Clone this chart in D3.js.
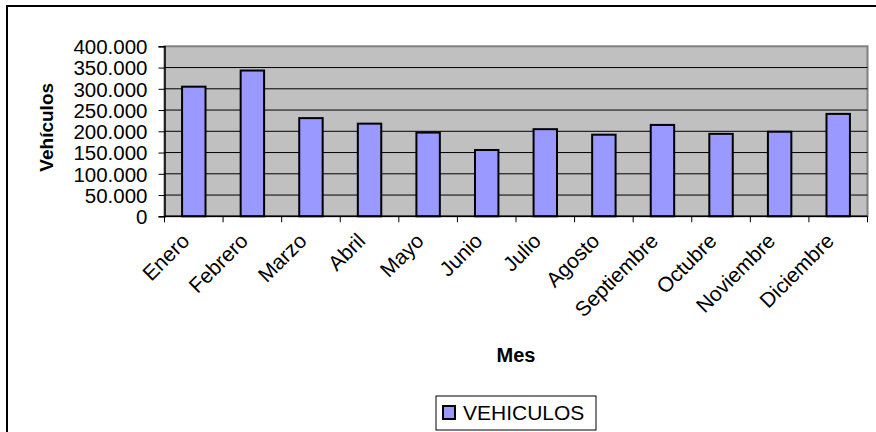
<!DOCTYPE html>
<html>
<head>
<meta charset="utf-8">
<script src="https://cdn.jsdelivr.net/npm/d3@7"></script>
<style>
  body { margin: 0; background: #fff; }
  text { font-family: "Liberation Sans", Arial, sans-serif; fill: #000; }
</style>
</head>
<body>
<svg id="chart" width="876" height="432"></svg>
<script>
// data
var meses = ["Enero","Febrero","Marzo","Abril","Mayo","Junio","Julio","Agosto","Septiembre","Octubre","Noviembre","Diciembre"];
var vehiculos = [305000, 343000, 231000, 218000, 197000, 156000, 205000, 192000, 215000, 194000, 199000, 241000];
var yTicks = [0, 50000, 100000, 150000, 200000, 250000, 300000, 350000, 400000];

var svg = d3.select("#chart");
var fmt = d3.formatLocale({decimal: ",", thousands: ".", grouping: [3], currency: ["", ""]}).format(",d");

var L = 164.5, R = 867.5, T = 46.3, B = 216.3;

// outer chart frame
svg.append("rect").attr("x", 7).attr("y", 6).attr("width", 880).attr("height", 440)
  .attr("fill", "#fff").attr("stroke", "#000").attr("stroke-width", 2);

var x = d3.scaleBand().domain(meses).range([L, R]).padding(0);
var y = d3.scaleLinear().domain([0, 400000]).range([B, T]);

// plot area
svg.append("rect").attr("x", L).attr("y", T).attr("width", R - L).attr("height", B - T)
  .attr("fill", "#c0c0c0").attr("stroke", "#808080").attr("stroke-width", 2);

// gridlines
svg.selectAll(".grid").data(yTicks.slice(1, -1)).enter().append("line")
  .attr("class", "grid")
  .attr("x1", L).attr("x2", R)
  .attr("y1", d => y(d)).attr("y2", d => y(d))
  .attr("stroke", "#000").attr("stroke-width", 1);

// bars
var bw = x.step() * 0.4;
svg.selectAll(".bar").data(meses).enter().append("rect")
  .attr("class", "bar")
  .attr("x", d => x(d) + x.bandwidth() / 2 - bw / 2)
  .attr("width", bw)
  .attr("y", (d, i) => y(vehiculos[i]))
  .attr("height", (d, i) => B - y(vehiculos[i]))
  .attr("fill", "#9999ff").attr("stroke", "#000").attr("stroke-width", 2);

// y axis
var yAxis = svg.append("g").attr("transform", "translate(" + L + ",0)")
  .call(d3.axisLeft(y).tickValues(yTicks).tickFormat(fmt).tickSize(6).tickPadding(11));
yAxis.select(".domain").attr("stroke", "#000").attr("stroke-width", 1.5);
yAxis.selectAll(".tick line").attr("stroke", "#000");
yAxis.selectAll("text").attr("font-size", 20.5).attr("font-family", "Liberation Sans, Arial, sans-serif")
  .attr("dy", "0.36em");

// x axis: ticks at category boundaries
var xg = svg.append("g");
xg.append("line").attr("x1", L).attr("x2", R).attr("y1", B).attr("y2", B)
  .attr("stroke", "#000").attr("stroke-width", 1.5);
xg.selectAll(".xt").data(meses.concat(["_end"])).enter().append("line")
  .attr("x1", (d, i) => L + i * x.step()).attr("x2", (d, i) => L + i * x.step())
  .attr("y1", B).attr("y2", B + 6).attr("stroke", "#000");
xg.selectAll(".xl").data(meses).enter().append("text")
  .attr("transform", d => "translate(" + (x(d) + x.bandwidth() / 2 - 3) + "," + (B + 26) + ") rotate(-45)")
  .attr("text-anchor", "end")
  .attr("font-size", 21)
  .text(d => d);

// axis titles
svg.append("text").attr("x", (L + R) / 2).attr("y", 362)
  .attr("text-anchor", "middle").attr("font-size", 20).attr("font-weight", "bold").text("Mes");
svg.append("text").attr("transform", "translate(53," + ((T + B) / 2 - 4) + ") rotate(-90)")
  .attr("text-anchor", "middle").attr("font-size", 19).attr("font-weight", "bold").text("Vehículos");

// legend
var lg = svg.append("g");
lg.append("rect").attr("x", 436).attr("y", 396).attr("width", 160).attr("height", 34)
  .attr("fill", "#fff").attr("stroke", "#000").attr("stroke-width", 1);
lg.append("rect").attr("x", 443).attr("y", 406).attr("width", 12).attr("height", 13)
  .attr("fill", "#9999ff").attr("stroke", "#000").attr("stroke-width", 2);
lg.append("text").attr("x", 463).attr("y", 419.5).attr("font-size", 21).text("VEHICULOS");
</script>
</body>
</html>
